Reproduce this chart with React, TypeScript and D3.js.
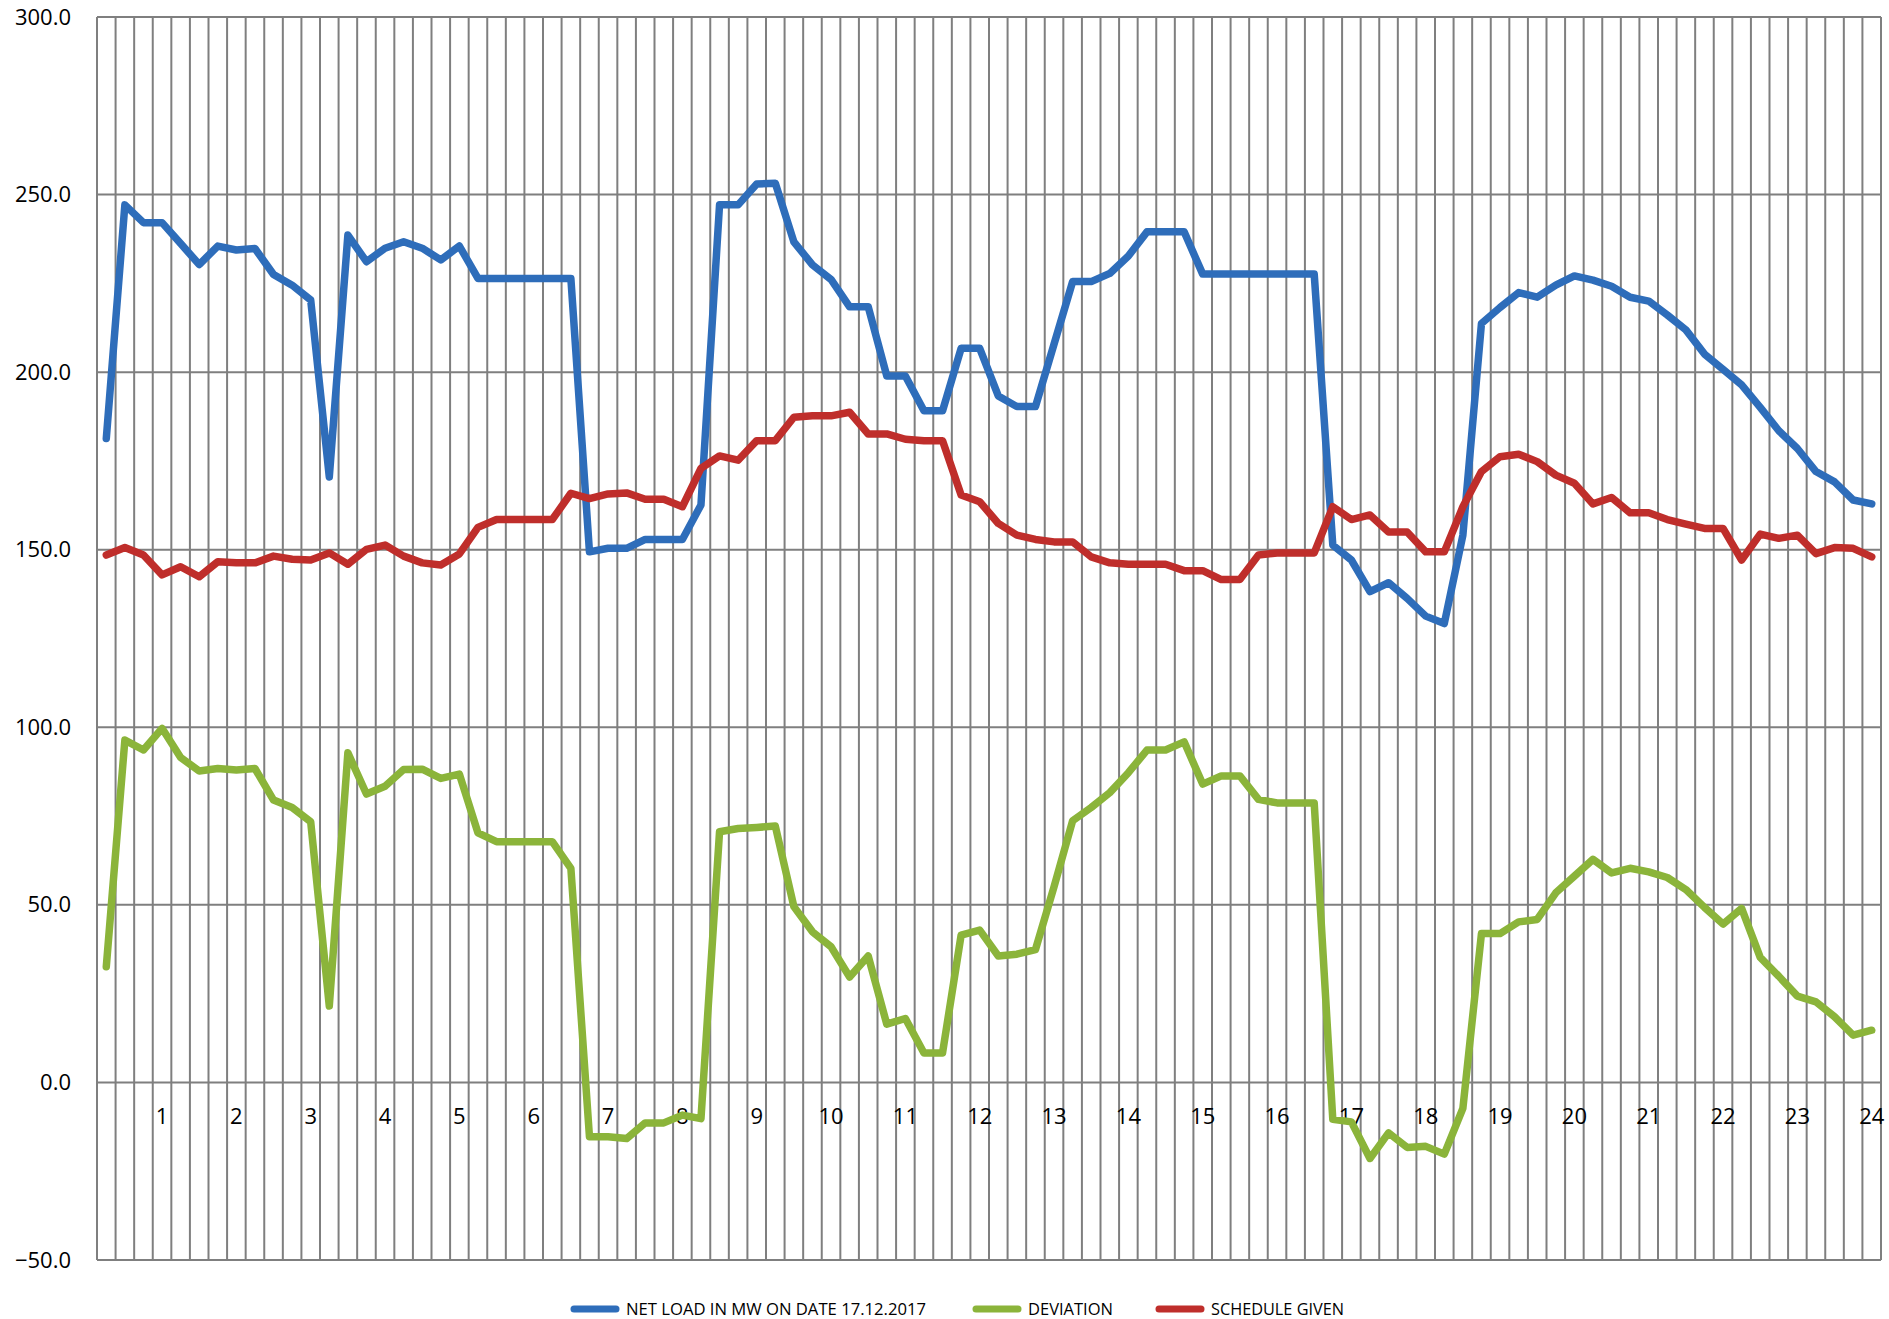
import React, { useEffect, useRef } from 'react';
import * as d3 from 'd3';

// 15-minute slots, 96 per day; the hour number sits on every 4th slot
const hourLabels = ['1', '2', '3', '4', '5', '6', '7', '8', '9', '10', '11', '12',
  '13', '14', '15', '16', '17', '18', '19', '20', '21', '22', '23', '24'];

const netLoad = [
  181.3, 247.1, 242.1, 242.1, 236.2, 230.3, 235.5, 234.4,
  234.8, 227.5, 224.5, 220.3, 170.5, 238.6, 231.1, 234.9,
  236.7, 234.9, 231.6, 235.5, 226.4, 226.4, 226.4, 226.4,
  226.4, 226.4, 149.4, 150.4, 150.4, 152.9, 152.9, 152.9,
  162.6, 247.1, 247.1, 253.0, 253.2, 236.7, 230.2, 226.1,
  218.4, 218.4, 198.9, 198.9, 189.1, 189.1, 206.7, 206.7,
  193.3, 190.3, 190.3, 207.9, 225.5, 225.5, 227.8, 232.7,
  239.5, 239.5, 239.5, 227.6, 227.6, 227.6, 227.6, 227.6,
  227.6, 227.6, 151.3, 147.1, 138.2, 140.7, 136.3, 131.3,
  129.2, 154.1, 213.7, 218.2, 222.4, 221.1, 224.5, 227.1,
  225.9, 224.2, 221.1, 220.0, 216.1, 211.9, 205.1, 200.8,
  196.4, 190.1, 183.5, 178.5, 172.0, 169.1, 164.0, 162.9,
];

const deviation = [
  32.6, 96.4, 93.6, 99.7, 91.5, 87.7, 88.4, 88.0,
  88.4, 79.5, 77.4, 73.4, 21.5, 92.8, 81.2, 83.4,
  88.1, 88.2, 85.6, 86.8, 70.3, 67.8, 67.8, 67.8,
  67.8, 60.3, -15.3, -15.3, -15.8, -11.4, -11.4, -9.2,
  -10.2, 70.6, 71.5, 71.8, 72.2, 49.5, 42.4, 38.2,
  29.7, 35.6, 16.4, 18.0, 8.3, 8.3, 41.5, 42.9,
  35.6, 36.1, 37.4, 55.1, 73.7, 77.4, 81.6, 87.2,
  93.6, 93.6, 95.9, 84.0, 86.3, 86.3, 79.7, 78.7,
  78.7, 78.7, -10.4, -11.1, -21.4, -14.2, -18.3, -18.0,
  -20.2, -7.3, 41.9, 41.9, 45.2, 45.9, 53.4, 58.1,
  62.8, 59.0, 60.3, 59.3, 57.7, 54.3, 49.3, 44.6,
  49.0, 35.2, 29.9, 24.3, 22.7, 18.5, 13.3, 14.7,
];

const schedule = [
  148.5, 150.6, 148.5, 142.9, 145.2, 142.4, 146.6, 146.3,
  146.3, 148.2, 147.3, 147.1, 149.1, 145.9, 150.1, 151.3,
  148.2, 146.3, 145.7, 148.8, 156.3, 158.5, 158.5, 158.5,
  158.5, 165.9, 164.4, 165.7, 166.0, 164.2, 164.2, 162.1,
  172.9, 176.4, 175.2, 180.7, 180.7, 187.3, 187.7, 187.7,
  188.7, 182.6, 182.6, 181.1, 180.7, 180.7, 165.4, 163.5,
  157.4, 154.1, 152.9, 152.2, 152.2, 148.0, 146.3, 145.9,
  145.9, 145.9, 144.1, 144.1, 141.6, 141.6, 148.5, 149.1,
  149.1, 149.1, 162.1, 158.5, 159.8, 155.0, 155.0, 149.4,
  149.4, 162.1, 172.0, 176.2, 176.9, 174.8, 171.0, 168.7,
  162.9, 164.7, 160.4, 160.4, 158.5, 157.2, 156.0, 156.0,
  147.1, 154.4, 153.2, 154.1, 148.9, 150.6, 150.4, 148.0,
];

const yTicks = [-50, 0, 50, 100, 150, 200, 250, 300];

const seriesNames = ['NET LOAD IN MW ON DATE 17.12.2017', 'DEVIATION', 'SCHEDULE GIVEN'];
const seriesColors = ['#2E6DBA', '#8BB43A', '#BF2E2B'];

const W = 1889;
const H = 1319;

const App = () => {
  const ref = useRef(null);

  useEffect(() => {
    if (!ref.current) return;
    d3.select(ref.current).selectAll('*').remove();

    const left = 97, right = 1881, top = 17, bottom = 1260;
    const font = "'Open Sans', sans-serif";

    const svg = d3.select(ref.current)
      .append('svg')
      .attr('width', W)
      .attr('height', H)
      .style('display', 'block')
      .style('background', '#fff');

    const slots = netLoad.map((_, i) => i);
    const x = d3.scaleBand().domain(slots).range([left, right]);
    const y = d3.scaleLinear().domain([-50, 300]).range([bottom, top]);

    // vertical grid at slot boundaries
    const grid = svg.append('g').attr('stroke', '#7f7f7f').attr('stroke-width', 2);
    grid.selectAll('.vg')
      .data([...slots, slots.length])
      .join('line')
      .attr('class', 'vg')
      .attr('x1', (d) => left + d * x.bandwidth())
      .attr('x2', (d) => left + d * x.bandwidth())
      .attr('y1', top)
      .attr('y2', bottom);

    grid.selectAll('.hg')
      .data(yTicks)
      .join('line')
      .attr('class', 'hg')
      .attr('x1', left)
      .attr('x2', right)
      .attr('y1', (d) => y(d))
      .attr('y2', (d) => y(d));

    // y axis labels
    const yAxis = d3.axisLeft(y)
      .tickValues(yTicks)
      .tickFormat(d3.format('.1f'))
      .tickSize(0)
      .tickPadding(26);
    svg.append('g')
      .attr('transform', `translate(${left},0)`)
      .call(yAxis)
      .call((g) => g.select('.domain').remove())
      .selectAll('text')
      .style('font-family', font)
      .style('font-size', '22px')
      .attr('fill', '#000');

    // hour labels sitting under the zero line
    const hourSlots = slots.filter((i) => i % 4 === 3);
    const xAxis = d3.axisBottom(x)
      .tickValues(hourSlots)
      .tickFormat((d) => hourLabels[(d + 1) / 4 - 1])
      .tickSize(0)
      .tickPadding(26);
    svg.append('g')
      .attr('transform', `translate(0,${y(0)})`)
      .call(xAxis)
      .call((g) => g.select('.domain').remove())
      .selectAll('text')
      .style('font-family', font)
      .style('font-size', '22px')
      .attr('fill', '#000');

    const line = d3.line()
      .x((d, i) => x(i) + x.bandwidth() / 2)
      .y((d) => y(d));

    [netLoad, deviation, schedule].forEach((s, k) => {
      svg.append('path')
        .datum(s)
        .attr('fill', 'none')
        .attr('stroke', seriesColors[k])
        .attr('stroke-width', 7.5)
        .attr('stroke-linejoin', 'round')
        .attr('stroke-linecap', 'round')
        .attr('d', line);
    });

    // legend
    const legendX = [570, 972, 1155];
    const legendW = [300, 85, 133];
    const ly = 1309;
    const legend = svg.append('g');
    seriesNames.forEach((name, k) => {
      legend.append('line')
        .attr('x1', legendX[k] + 4)
        .attr('x2', legendX[k] + 46)
        .attr('y1', ly)
        .attr('y2', ly)
        .attr('stroke', seriesColors[k])
        .attr('stroke-width', 7)
        .attr('stroke-linecap', 'round');
      legend.append('text')
        .attr('x', legendX[k] + 56)
        .attr('y', ly)
        .attr('dy', '0.35em')
        .attr('textLength', legendW[k])
        .attr('lengthAdjust', 'spacingAndGlyphs')
        .style('font-family', font)
        .style('font-size', '16px')
        .attr('fill', '#000')
        .text(name);
    });
  }, []);

  return <div ref={ref} style={{ position: 'absolute', left: 0, top: 0 }}></div>;
};

export default App;
